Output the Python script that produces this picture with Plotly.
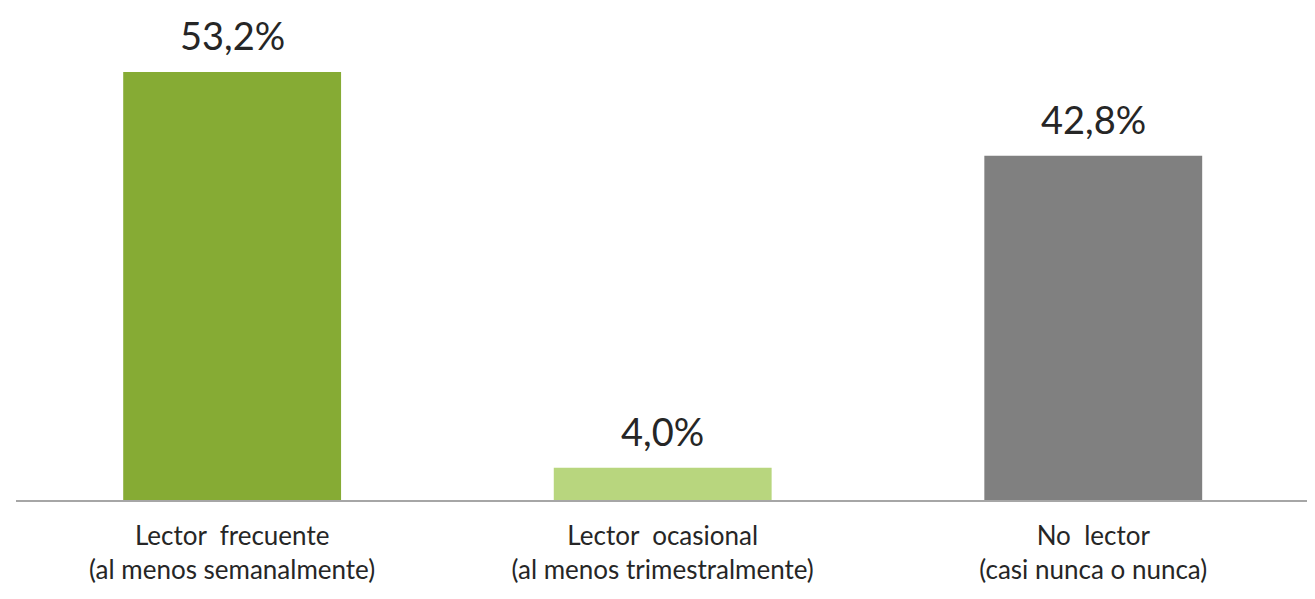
import plotly.graph_objects as go

categories = [
    "Lector\u00a0 frecuente<br>(al menos semanalmente)",
    "Lector\u00a0 ocasional<br>(al menos trimestralmente)",
    "No\u00a0 lector<br>(casi nunca o nunca)",
]
values = [53.2, 4.0, 42.8]
value_labels = ["53,2%", "4,0%", "42,8%"]
colors = ["#86AB34", "#B8D67E", "#808080"]

FONT = "Lato, 'Open Sans', sans-serif"

fig = go.Figure()
fig.add_trace(
    go.Bar(
        x=list(range(len(categories))),
        y=values,
        marker=dict(color=colors, line=dict(width=0)),
        width=0.506,
        hoverinfo="skip",
    )
)

# value labels above each bar
for i, (v, lab) in enumerate(zip(values, value_labels)):
    fig.add_annotation(
        x=i, y=v, text=lab, showarrow=False,
        yanchor="bottom", yshift=12,
        font=dict(family=FONT, size=38, color="#262626"),
    )

# page body has an 8px margin, so margins are trimmed by that
fig.update_layout(
    template="plotly_white",
    width=1315, height=599,
    margin=dict(l=8, r=8, t=12, b=107),
    paper_bgcolor="white", plot_bgcolor="white",
    showlegend=False,
    font=dict(family=FONT, color="#262626"),
)
fig.update_xaxes(
    range=[-0.502, 2.515],
    tickmode="array",
    tickvals=list(range(len(categories))),
    ticktext=categories,
    tickfont=dict(family=FONT, size=26, color="#262626"),
    showline=True, linecolor="#A6A6A6", linewidth=2,
    showgrid=False, zeroline=False, ticks="",
    ticklabelstandoff=12,
)
fig.update_yaxes(
    range=[0, 59.66],
    visible=False, showgrid=False, zeroline=False,
)

fig.write_html("out.html")
